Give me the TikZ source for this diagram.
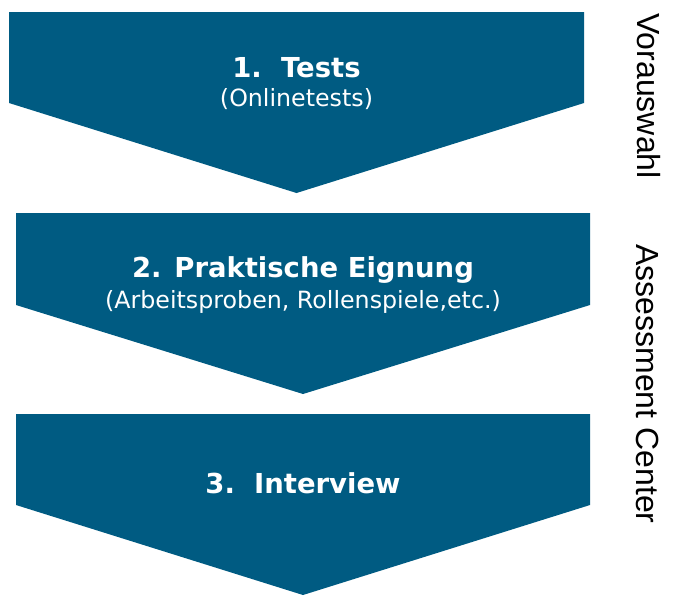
\documentclass[tikz,border=0pt]{standalone}
\usepackage{fontspec}
\newfontfamily\stagefont{DejaVu Sans}
\newfontfamily\sidefont{Liberation Sans}
\usepackage{tikz}
\usetikzlibrary{positioning}

\definecolor{stageblue}{RGB}{0,91,130}

\begin{document}
\begin{tikzpicture}[
    x=0.75pt, y=-0.75pt,
    % Chevron stages
    stage/.style={
        fill=stageblue
    },
    % Stage title
    stage title/.style={
        anchor=base,
        text=white,
        font=\stagefont\bfseries\fontsize{20.6}{24}\selectfont
    },
    % Stage details
    stage note/.style={
        anchor=base,
        text=white,
        font=\stagefont\fontsize{17.8}{22}\selectfont
    },
    % Phase labels on the right
    phase/.style={
        anchor=base,
        rotate=-90,
        text=black,
        font=\sidefont\fontsize{24}{28}\selectfont
    }
]

\useasboundingbox (0,0) rectangle (691,603);

% Chevrons
\fill[stage] (9,12) -- (584,12) -- (584,103) -- (296.5,193) -- (9,103) -- cycle;
\fill[stage] (16,213) -- (590,213) -- (590,305) -- (303,394) -- (16,305) -- cycle;
\fill[stage] (16,414) -- (590,414) -- (590,505) -- (303,595) -- (16,505) -- cycle;

% Stage texts
\node[stage title] (tests) at (296.5,77) {1.\hspace{0.7em}Tests};
\node[stage note] (tests note) at (296.5,106) {(Onlinetests)};

\node[stage title] (praxis) at (303,277) {2. Praktische Eignung};
\node[stage note] (praxis note) at (303,308) {(Arbeitsproben, Rollenspiele,etc.)};

\node[stage title] (interview) at (303,493) {3.\hspace{0.7em}Interview};

% Phases
\node[phase] (vorauswahl) at (637,96) {Vorauswahl};
\node[phase] (assessment) at (636,384) {Assessment Center};

\end{tikzpicture}
\end{document}
